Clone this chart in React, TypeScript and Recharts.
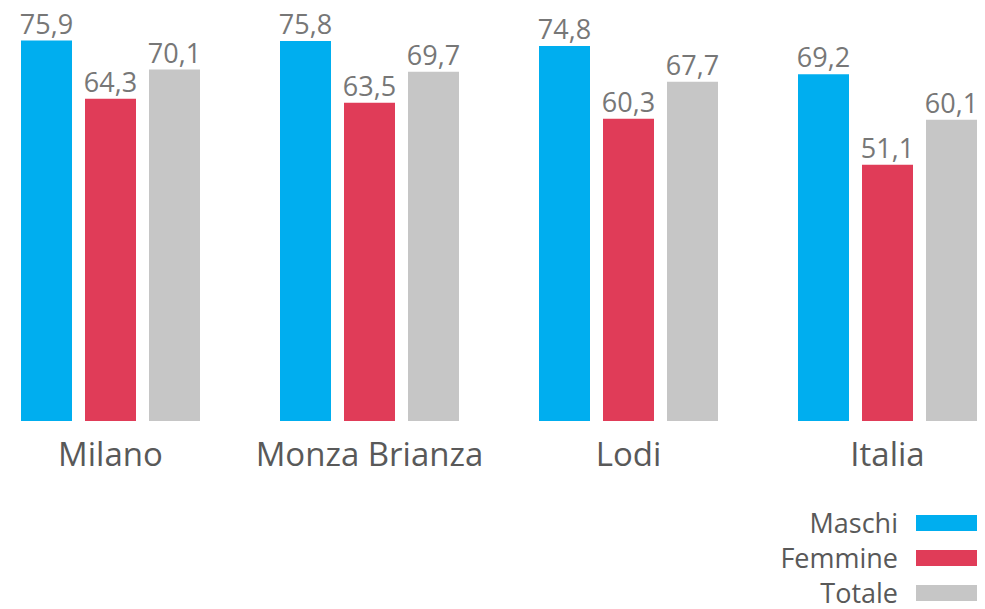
import { BarChart, Bar, XAxis, YAxis, LabelList } from "recharts";

const categories = ["Milano", "Monza Brianza", "Lodi", "Italia"];
const maschi = [75.9, 75.8, 74.8, 69.2];
const femmine = [64.3, 63.5, 60.3, 51.1];
const totale = [70.1, 69.7, 67.7, 60.1];

const series = [
  { key: "maschi", name: "Maschi", color: "#00AEEF" },
  { key: "femmine", name: "Femmine", color: "#E03C58" },
  { key: "totale", name: "Totale", color: "#C6C6C6" },
];

const data = categories.map((name, i) => ({
  name,
  maschi: maschi[i],
  femmine: femmine[i],
  totale: totale[i],
}));

const font = "'Open Sans', 'Noto Sans', sans-serif";
const fmt = (v: any) => String(v).replace(".", ",");

export default function App() {
  return (
    <div
      style={{
        position: "fixed",
        left: 0,
        top: 0,
        width: 985,
        height: 609,
        overflow: "hidden",
        background: "#fff",
        fontFamily: font,
      }}
    >
      <div style={{ position: "absolute", left: -19.5, top: 0 }}>
        <BarChart
          width={1036}
          height={609}
          data={data}
          margin={{ top: 20, right: 0, bottom: 0, left: 0 }}
          barGap={13}
          barCategoryGap={40}
        >
          <XAxis
            dataKey="name"
            axisLine={false}
            tickLine={false}
            tickSize={0}
            tickMargin={22}
            height={188}
            interval={0}
            tick={{ fill: "#595959", fontSize: 33, fontFamily: font }}
          />
          <YAxis hide domain={[0, 80]} />
          {series.map((s) => (
            <Bar key={s.key} dataKey={s.key} fill={s.color} isAnimationActive={false}>
              <LabelList
                dataKey={s.key}
                position="top"
                offset={7}
                formatter={fmt}
                style={{ fill: "#777", fontSize: 27, fontFamily: font }}
              />
            </Bar>
          ))}
        </BarChart>
      </div>
      <div style={{ position: "absolute", right: 8, top: 505 }}>
        {series.map((s) => (
          <div
            key={s.key}
            style={{ display: "flex", alignItems: "center", justifyContent: "flex-end", height: 35 }}
          >
            <span style={{ color: "#595959", fontSize: 27, lineHeight: 1, marginRight: 18 }}>{s.name}</span>
            <span style={{ display: "inline-block", width: 61, height: 16, background: s.color }} />
          </div>
        ))}
      </div>
    </div>
  );
}
